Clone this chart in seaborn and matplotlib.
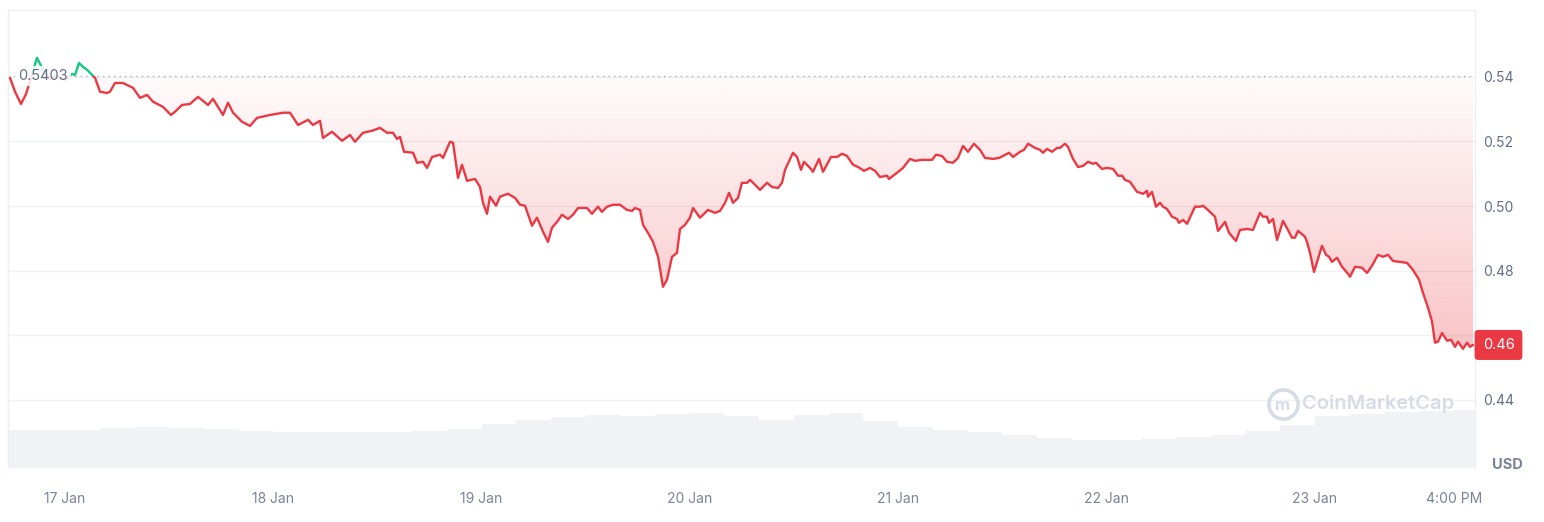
import matplotlib
matplotlib.use("Agg")
import matplotlib.pyplot as plt
import matplotlib.dates as mdates
import matplotlib.transforms as mtransforms
from matplotlib.lines import Line2D
from matplotlib.patches import Rectangle
from matplotlib.path import Path
import seaborn as sns
import numpy as np
from datetime import datetime

# --- datos (horas desde el 17 Jan 00:00, precio en USD) ---
hours = [
    -6.34, -5.76, -5.07, -4.49, -3.92, -3.23, -2.53, -1.73, -0.92, 0.0,
    0.81, 1.15, 1.61, 2.07, 2.53, 3.46, 4.03, 4.84, 5.18, 5.76,
    6.68, 7.83, 8.64, 9.45, 10.14, 11.29, 12.21, 12.67, 13.48, 14.40,
    15.32, 16.48, 17.05, 18.20, 18.78, 19.36, 20.39, 21.32, 22.12, 23.62,
    25.12, 25.92, 26.85, 28.00, 28.57, 29.38, 29.73, 30.76, 31.92, 32.84,
    33.41, 34.34, 35.37, 36.29, 37.10, 37.79, 38.25, 38.60, 39.06, 40.10,
    40.56, 41.25, 41.71, 42.29, 43.21, 43.55, 44.36, 44.71, 45.28, 45.74,
    46.32, 47.24, 47.82, 48.16, 48.62, 48.97, 49.66, 50.12, 51.04, 51.85,
    52.43, 53.00, 53.81, 54.38, 55.08, 55.65, 56.11, 56.69, 57.26, 57.96,
    58.53, 59.11, 60.14, 60.72, 61.41, 61.87, 62.45, 63.14, 63.95, 64.75,
    65.33, 65.68, 66.25, 66.60, 67.17, 67.75, 68.33, 68.90, 69.36, 69.94,
    70.51, 70.86, 71.44, 72.01, 72.36, 73.16, 74.09, 74.89, 75.47, 76.05,
    76.51, 76.97, 77.54, 78.00, 78.58, 78.93, 79.50, 80.08, 80.88, 81.46,
    82.15, 82.61, 82.96, 83.88, 84.34, 84.80, 85.15, 85.84, 86.18, 86.88,
    87.34, 88.26, 88.95, 89.53, 90.10, 90.79, 91.37, 92.06, 92.75, 93.33,
    93.90, 94.71, 94.94, 95.86, 96.55, 97.36, 97.94, 98.74, 99.90, 100.36,
    101.05, 101.62, 102.32, 102.89, 103.47, 104.04, 104.73, 105.43, 106.00, 106.92,
    107.62, 108.08, 108.77, 109.23, 110.04, 110.50, 110.96, 111.76, 112.34, 112.69,
    113.15, 113.72, 114.30, 114.64, 115.22, 115.57, 116.14, 116.72, 117.29, 117.87,
    118.45, 118.79, 119.48, 120.06, 120.75, 121.33, 121.79, 122.13, 122.71, 123.52,
    124.21, 124.67, 124.78, 125.24, 125.70, 126.17, 126.51, 126.97, 127.55, 128.12,
    128.35, 128.82, 129.28, 130.20, 130.77, 131.12, 131.69, 132.50, 132.85, 133.66,
    134.12, 134.92, 135.38, 136.19, 136.88, 137.69, 138.03, 138.49, 138.72, 139.19,
    139.65, 140.34, 140.91, 141.37, 141.72, 142.07, 142.87, 143.10, 143.45, 143.91,
    144.26, 144.83, 145.29, 145.64, 145.98, 146.56, 147.14, 147.83, 148.06, 148.63,
    149.44, 150.02, 150.59, 151.28, 151.86, 152.44, 153.01, 153.82, 154.63, 155.32,
    156.01, 156.47, 157.05, 157.51, 157.85, 158.20, 158.66, 159.24, 159.70, 160.16,
    160.50, 161.08, 161.54, 161.89, 162.23,
]
price = [
    .5397, .5354, .5316, .5347, .5397, .5459, .5422, .5394, .5403, .5391,
    .5409, .5406, .5443, .5431, .5422, .5397, .5354, .5350, .5354, .5381,
    .5381, .5366, .5335, .5344, .5323, .5307, .5282, .5292, .5313, .5316,
    .5338, .5313, .5332, .5282, .5320, .5289, .5261, .5248, .5273, .5282,
    .5289, .5289, .5251, .5267, .5251, .5264, .5211, .5230, .5202, .5220,
    .5199, .5227, .5233, .5242, .5227, .5227, .5208, .5214, .5168, .5165,
    .5134, .5137, .5118, .5152, .5159, .5149, .5199, .5196, .5087, .5128,
    .5078, .5084, .5059, .5010, .4976, .5029, .5001, .5029, .5038, .5025,
    .5004, .5001, .4939, .4964, .4920, .4889, .4933, .4951, .4973, .4960,
    .4973, .4994, .4994, .4976, .4998, .4982, .4998, .5004, .5004, .4988,
    .4985, .4994, .4988, .4942, .4917, .4889, .4843, .4750, .4772, .4843,
    .4855, .4929, .4942, .4964, .4994, .4964, .4988, .4979, .4985, .5010,
    .5041, .5010, .5025, .5072, .5072, .5081, .5066, .5050, .5072, .5059,
    .5056, .5072, .5112, .5165, .5152, .5112, .5137, .5118, .5106, .5146,
    .5106, .5152, .5152, .5162, .5155, .5128, .5121, .5109, .5118, .5109,
    .5090, .5094, .5084, .5103, .5118, .5146, .5140, .5143, .5143, .5159,
    .5155, .5137, .5134, .5149, .5186, .5168, .5193, .5174, .5149, .5146,
    .5149, .5155, .5165, .5152, .5168, .5174, .5193, .5180, .5174, .5165,
    .5177, .5168, .5180, .5180, .5193, .5183, .5146, .5121, .5124, .5137,
    .5131, .5134, .5115, .5118, .5115, .5094, .5094, .5081, .5075, .5044,
    .5038, .5047, .5029, .5044, .4998, .5010, .4998, .4991, .4967, .4960,
    .4948, .4957, .4945, .4998, .4998, .5001, .4988, .4967, .4923, .4951,
    .4917, .4892, .4926, .4929, .4926, .4979, .4967, .4967, .4948, .4960,
    .4895, .4954, .4926, .4902, .4902, .4923, .4905, .4889, .4855, .4796,
    .4827, .4877, .4849, .4843, .4827, .4840, .4812, .4790, .4781, .4812,
    .4809, .4793, .4815, .4849, .4843, .4849, .4830, .4827, .4824, .4802,
    .4772, .4731, .4685, .4642, .4577, .4580, .4607, .4583, .4586, .4564,
    .4580, .4558, .4577, .4564, .4570,
]
open_price = 0.5403
last_label = "0.46"

# volumen (millones USD) en bloques de 4 horas
vol_hours = [-6, -2, 2, 6, 10, 14, 18, 22, 26, 30, 34, 38, 42, 46, 50, 54, 58, 62,
             66, 70, 74, 78, 82, 86, 90, 94, 98, 102, 106, 110, 114, 118, 122, 126,
             130, 134, 138, 142, 146, 150, 154, 158, 162]
volume_musd = [152, 152, 152, 160, 164, 160, 156, 148, 144, 144, 144, 144, 148, 156,
               176, 192, 204, 212, 208, 216, 220, 208, 192, 212, 220, 188, 164, 152,
               144, 132, 120, 112, 112, 116, 124, 132, 148, 172, 208, 216, 224, 228, 232]

y_ticks = [0.44, 0.46, 0.48, 0.50, 0.52, 0.54]
x_tick_hours = [0, 24, 48, 72, 96, 120, 144, 160]
x_tick_labels = ["17 Jan", "18 Jan", "19 Jan", "20 Jan", "21 Jan", "22 Jan", "23 Jan", "4:00 PM"]

RED = "#ea3943"
GREEN = "#16c784"
GRAY = "#616e85"

sns.set_theme(style="white")
plt.rcParams["font.family"] = ["Inter", "DejaVu Sans"]

day0 = mdates.date2num(datetime(2024, 1, 17))
t = day0 + np.array(hours) / 24.0
p = np.array(price)
vt = day0 + np.array(vol_hours) / 24.0

fig = plt.figure(figsize=(15.44, 5.22), dpi=100)
ax = fig.add_axes([8 / 1544, 54 / 522, 1467 / 1544, 458 / 522])
ax2 = ax.twinx()
ax.set_zorder(ax2.get_zorder() + 1)
ax.patch.set_visible(False)

# volumen al fondo
ax2.bar(vt, volume_musd, width=4 / 24, color="#f0f2f5", linewidth=0)
ax2.set_ylim(0, max(volume_musd) * 7.9)
ax2.set_yticks([])
for s in ax2.spines.values():
    s.set_visible(False)

xmin = day0 - 6.57 / 24
xmax = day0 + 162.46 / 24
ymin, ymax = 0.4189, 0.5607

# relleno en degradado (rojo bajo la apertura, verde encima)
def gradient_fill(where, color, y_lo, y_hi, a_lo, a_hi):
    coll = ax.fill_between(t, p, open_price, where=where, interpolate=True, color="none", lw=0)
    paths = coll.get_paths()
    if not paths:
        return
    clip = Path.make_compound_path(*paths)
    rgb = matplotlib.colors.to_rgb(color)
    grad = np.zeros((256, 1, 4))
    grad[..., :3] = rgb
    grad[:, 0, 3] = np.linspace(a_lo, a_hi, 256)
    im = ax.imshow(grad, extent=[xmin, xmax, y_lo, y_hi], origin="lower",
                   aspect="auto", zorder=1, interpolation="bilinear")
    im.set_clip_path(clip, transform=ax.transData)

gradient_fill(p <= open_price, RED, p.min(), open_price, 0.30, 0.02)
gradient_fill(p >= open_price, GREEN, open_price, ymax, 0.02, 0.18)

# línea de precio, coloreada según la apertura
for color, y0, h in [(RED, ymin - 1, open_price - ymin + 1), (GREEN, open_price, 1)]:
    sns.lineplot(x=t, y=p, ax=ax, color=color, linewidth=1.7, zorder=3)
    line = ax.lines[-1]
    rect = Rectangle((xmin - 5, y0), 20, h, transform=ax.transData)
    line.set_clip_path(rect)

ax.axhline(open_price, color="#a6b0c3", linestyle=(0, (1, 3)), linewidth=1, zorder=2)

blend = mtransforms.blended_transform_factory(ax.transAxes, ax.transData)
ax.text(10 / 1467, open_price, f"{open_price:.4f}", transform=blend, ha="left", va="center",
        fontsize=10.5, color=GRAY, zorder=5,
        bbox=dict(boxstyle="square,pad=0.2", fc="white", ec="none", alpha=0.85))
ax.text(1 + 23.5 / 1467, p[-1], last_label, transform=blend, ha="center", va="center",
        fontsize=10.5, color="white", zorder=6, clip_on=False,
        bbox=dict(boxstyle="round,pad=0.55,rounding_size=0.25", fc=RED, ec="none"))

ax.set_xlim(xmin, xmax)
ax.set_ylim(ymin, ymax)
ax.set_yticks(y_ticks)
# la etiqueta 0.46 queda tapada por la caja del último precio
ax.set_yticklabels(["" if abs(v - 0.46) < 1e-9 else f"{v:.2f}" for v in y_ticks])
ax.yaxis.tick_right()
ax.yaxis.grid(True, color="#eff2f5", linewidth=1)
ax.set_axisbelow(True)
ax.set_xticks(day0 + np.array(x_tick_hours) / 24.0)
ax.set_xticklabels(x_tick_labels)
ax.tick_params(axis="y", length=0, pad=6, labelsize=10, labelcolor=GRAY)
ax.tick_params(axis="x", length=0, pad=17, labelsize=10, labelcolor="#7a8396")
ax.set_xlabel("")
ax.set_ylabel("")
for name, s in ax.spines.items():
    s.set_color("#eceff3")
    s.set_linewidth(1)
ax.spines["bottom"].set_visible(False)

fig.text(1507 / 1544, 1 - 465 / 522, "USD", ha="center", va="center",
         fontsize=10.5, fontweight="bold", color="#7a8396")

# marca de agua
fig.add_artist(Line2D([1283 / 1544], [1 - 404 / 522], marker="o", markersize=21,
                      markerfacecolor="none", markeredgecolor="#d6dce6", markeredgewidth=2.6,
                      transform=fig.transFigure))
fig.text(1283 / 1544, 1 - 405 / 522, "m", ha="center", va="center", fontsize=12,
         fontweight="bold", color="#d6dce6")
fig.text(1302 / 1544, 1 - 404 / 522, "CoinMarketCap", ha="left", va="center",
         fontsize=14.5, fontweight="semibold", color="#d6dce6")

fig.savefig("out.png", dpi=100)
